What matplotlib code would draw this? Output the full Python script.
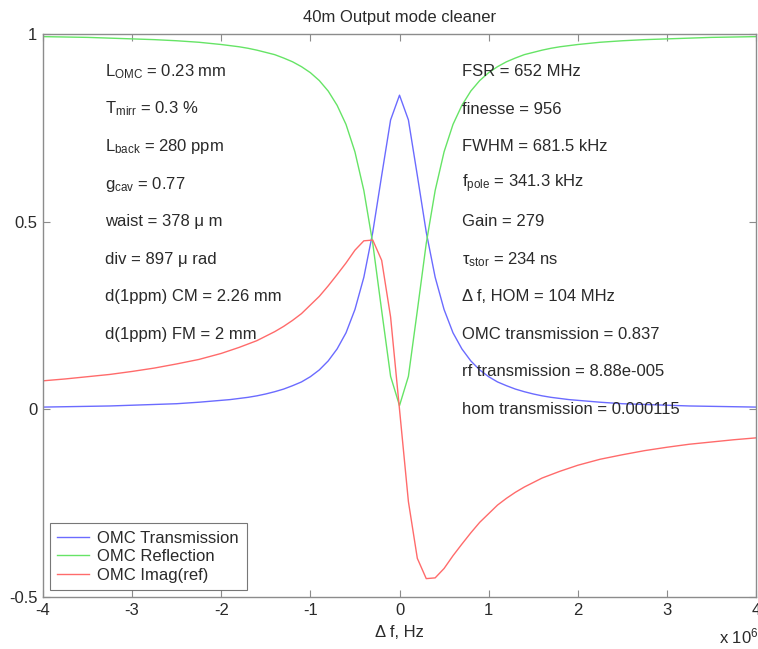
import matplotlib
matplotlib.use("Agg")
import matplotlib.pyplot as plt
from matplotlib.ticker import FuncFormatter, MultipleLocator

plt.rcParams['font.family'] = ['Liberation Sans', 'DejaVu Sans']
plt.rcParams['axes.unicode_minus'] = False
plt.rcParams['mathtext.fontset'] = 'custom'
plt.rcParams['mathtext.rm'] = 'Liberation Sans'
plt.rcParams['mathtext.it'] = 'Liberation Sans'

# Detuning grid (MHz), denser around the resonance
freq_mhz = [-4.0, -3.75, -3.5, -3.25, -3.0, -2.75, -2.5, -2.25,
            -2.0, -1.9, -1.8, -1.7, -1.6, -1.5, -1.4, -1.3, -1.2, -1.1,
            -1.0, -0.9, -0.8, -0.7, -0.6, -0.5, -0.4, -0.3, -0.2, -0.1,
            0.0,
            0.1, 0.2, 0.3, 0.4, 0.5, 0.6, 0.7, 0.8, 0.9, 1.0,
            1.1, 1.2, 1.3, 1.4, 1.5, 1.6, 1.7, 1.8, 1.9, 2.0,
            2.25, 2.5, 2.75, 3.0, 3.25, 3.5, 3.75, 4.0]

transmission = [0.006, 0.007, 0.008, 0.009, 0.011, 0.013, 0.015, 0.019,
                0.024, 0.026, 0.029, 0.032, 0.036, 0.041, 0.047, 0.054, 0.063, 0.073,
                0.087, 0.105, 0.129, 0.161, 0.204, 0.266, 0.352, 0.472, 0.623, 0.771,
                0.837,
                0.771, 0.623, 0.472, 0.352, 0.266, 0.204, 0.161, 0.129, 0.105, 0.087,
                0.073, 0.063, 0.054, 0.047, 0.041, 0.036, 0.032, 0.029, 0.026, 0.024,
                0.019, 0.015, 0.013, 0.011, 0.009, 0.008, 0.007, 0.006]

reflection = [0.993, 0.992, 0.991, 0.989, 0.987, 0.985, 0.982, 0.978,
              0.972, 0.969, 0.966, 0.962, 0.957, 0.951, 0.945, 0.936, 0.926, 0.913,
              0.897, 0.876, 0.848, 0.810, 0.759, 0.686, 0.583, 0.442, 0.263, 0.088,
              0.010,
              0.088, 0.263, 0.442, 0.583, 0.686, 0.759, 0.810, 0.848, 0.876, 0.897,
              0.913, 0.926, 0.936, 0.945, 0.951, 0.957, 0.962, 0.966, 0.969, 0.972,
              0.978, 0.982, 0.985, 0.987, 0.989, 0.991, 0.992, 0.993]

imag_ref = [0.076, 0.081, 0.087, 0.093, 0.101, 0.110, 0.121, 0.133,
            0.149, 0.157, 0.165, 0.174, 0.183, 0.195, 0.207, 0.221, 0.237, 0.255,
            0.278, 0.301, 0.329, 0.359, 0.390, 0.424, 0.449, 0.451, 0.397, 0.246,
            0.0,
            -0.246, -0.397, -0.451, -0.449, -0.424, -0.390, -0.359, -0.329, -0.301, -0.278,
            -0.255, -0.237, -0.221, -0.207, -0.195, -0.183, -0.174, -0.165, -0.157, -0.149,
            -0.133, -0.121, -0.110, -0.101, -0.093, -0.087, -0.081, -0.076]

freq_hz = [f * 1e6 for f in freq_mhz]

left_notes = [r'L$_{\mathregular{OMC}}$ = 0.23 mm',
              r'T$_{\mathregular{mirr}}$ = 0.3 %',
              r'L$_{\mathregular{back}}$ = 280 ppm',
              r'g$_{\mathregular{cav}}$ = 0.77',
              'waist = 378 \u03bc m',
              'div = 897 \u03bc rad',
              'd(1ppm) CM = 2.26 mm',
              'd(1ppm) FM = 2 mm']

right_notes = ['FSR = 652 MHz',
               'finesse = 956',
               'FWHM = 681.5 kHz',
               r'f$_{\mathregular{pole}}$ = 341.3 kHz',
               'Gain = 279',
               r'$\tau_{\mathregular{stor}}$ = 234 ns',
               '\u0394 f, HOM = 104 MHz',
               'OMC transmission = 0.837',
               'rf transmission = 8.88e-005',
               'hom transmission = 0.000115']

fig = plt.figure(figsize=(7.58, 6.49), dpi=100)
ax = fig.add_axes([0.0567, 0.0801, 0.9407, 0.8675])

ax.plot(freq_hz, transmission, color='#6b6bff', lw=1.0, label='OMC Transmission')
ax.plot(freq_hz, reflection, color='#66e466', lw=1.0, label='OMC Reflection')
ax.plot(freq_hz, imag_ref, color='#ff6b6b', lw=1.0, label='OMC Imag(ref)')

ax.set_xlim(-4e6, 4e6)
ax.set_ylim(-0.5, 1.0)
ax.xaxis.set_major_locator(MultipleLocator(1e6))
ax.yaxis.set_major_locator(MultipleLocator(0.5))
ax.xaxis.set_major_formatter(FuncFormatter(lambda v, p: f'{v/1e6:g}'))
ax.yaxis.set_major_formatter(FuncFormatter(lambda v, p: f'{v:g}'))

text_color = '#2a2a2a'
fs = 12
for s in ax.spines.values():
    s.set_color('#8c8c8c')
    s.set_linewidth(1.0)
ax.tick_params(direction='in', length=5, width=0.8, color='#8c8c8c',
               top=True, right=True, labelsize=fs, labelcolor=text_color, pad=4)

ax.set_title('40m Output mode cleaner', fontsize=fs, color=text_color, pad=9)
ax.set_xlabel('\u0394 f, Hz', fontsize=fs, color=text_color, labelpad=5)
fig.text(0.949, 0.008, r'x 10$^{\mathregular{6}}$', fontsize=fs, color=text_color)

for i, t in enumerate(left_notes):
    ax.text(-3.3e6, 0.9 - 0.1 * i, t, fontsize=fs, color=text_color, va='center')
for i, t in enumerate(right_notes):
    ax.text(0.7e6, 0.9 - 0.1 * i, t, fontsize=fs, color=text_color, va='center')

leg = ax.legend(loc='lower left', fontsize=fs, frameon=True, fancybox=False,
                edgecolor='#555555', borderpad=0.45, labelspacing=0.2,
                handlelength=1.9, handletextpad=0.5, borderaxespad=0.42)
leg.get_frame().set_linewidth(0.8)
for t in leg.get_texts():
    t.set_color(text_color)

fig.savefig('out.png', dpi=100)
